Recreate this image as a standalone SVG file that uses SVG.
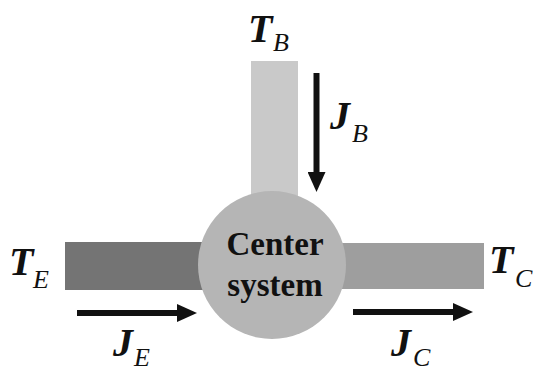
<svg xmlns="http://www.w3.org/2000/svg" width="533" height="373" viewBox="0 0 533 373">
<style>
text{fill:#111}
.main{font-weight:bold;font-style:italic;font-size:40px}
.sub{font-style:italic;font-size:26px}
.ctr{font-weight:bold;font-size:33px;text-anchor:middle}
.flow{stroke:#111;stroke-width:6;fill:none}
</style>
<defs>
<marker id="ah" viewBox="0 0 20 18" markerWidth="20" markerHeight="18" refX="5" refY="9" markerUnits="userSpaceOnUse" orient="auto">
<path d="M0,0 L20,9 L0,18 z" fill="#111"/>
</marker>
</defs>
<rect width="533" height="373" fill="#ffffff"/>
<g id="bar-top"><rect x="251" y="61" width="47" height="150" fill="#c9c9c9"/></g>
<g id="bar-left"><rect x="65" y="242" width="150" height="48" fill="#747474"/></g>
<g id="bar-right"><rect x="330" y="243" width="154" height="46" fill="#9e9e9e"/></g>
<g id="connectors">
<line class="flow" x1="316.5" y1="73" x2="316.5" y2="177" marker-end="url(#ah)"/>
<line class="flow" x1="77" y1="313" x2="182" y2="313" marker-end="url(#ah)"/>
<line class="flow" x1="353" y1="312" x2="458" y2="312" marker-end="url(#ah)"/>
</g>
<g font-family="Liberation Serif, Times New Roman, DejaVu Serif, serif">
<g id="center">
<circle cx="272" cy="265" r="74" fill="#b5b5b5"/>
<text class="ctr" x="275" y="255">Center</text>
<text class="ctr" x="275" y="296">system</text>
</g>
<g id="label-TB"><text class="main" x="248" y="42">T</text><text class="sub" x="273" y="51">B</text></g>
<g id="label-TE"><text class="main" x="9" y="275">T</text><text class="sub" x="33" y="288">E</text></g>
<g id="label-TC"><text class="main" x="489" y="273">T</text><text class="sub" x="515" y="287">C</text></g>
<g id="label-JB"><text class="main" x="330" y="129">J</text><text class="sub" x="352" y="142">B</text></g>
<g id="label-JE"><text class="main" x="113" y="356">J</text><text class="sub" x="134" y="366">E</text></g>
<g id="label-JC"><text class="main" x="391" y="356">J</text><text class="sub" x="413" y="366">C</text></g>
</g>
</svg>
